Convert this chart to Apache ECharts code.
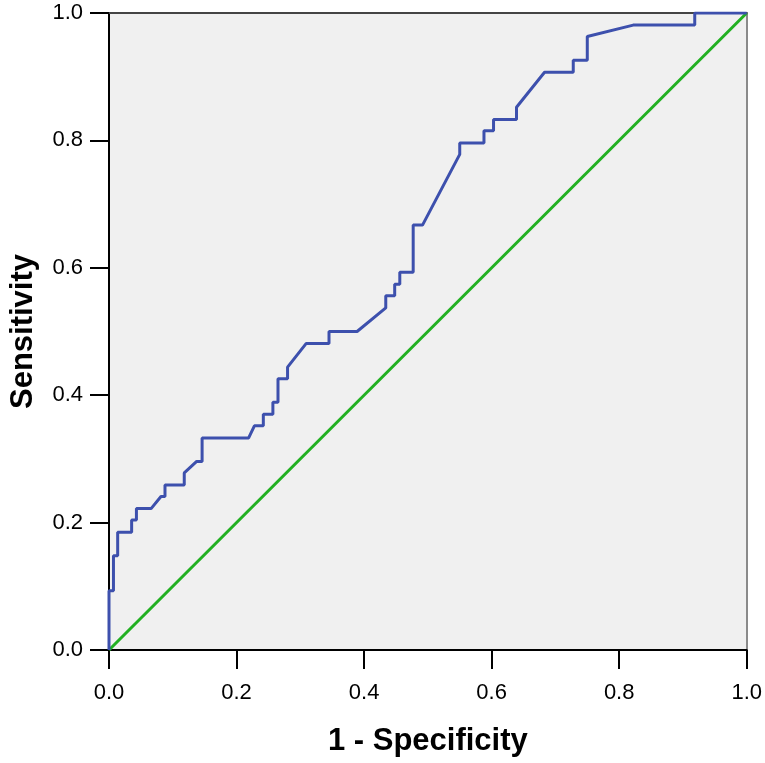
<!DOCTYPE html>
<html>
<head>
<meta charset="utf-8">
<script src="https://cdn.jsdelivr.net/npm/echarts@6/dist/echarts.min.js"></script>
<style>
  html, body { margin: 0; padding: 0; background: #fff; }
  #roc { width: 765px; height: 763px; }
</style>
</head>
<body>
<div id="roc"></div>
<script>
// ROC curve points: 1 - specificity / sensitivity
var fpr = [0, 0, 0.007, 0.007, 0.0136, 0.0136, 0.0355, 0.0355, 0.043, 0.043,
  0.066, 0.0815, 0.0878, 0.0878, 0.118, 0.118, 0.1375, 0.146, 0.146, 0.219,
  0.228, 0.242, 0.242, 0.257, 0.257, 0.265, 0.265, 0.280, 0.280, 0.309,
  0.345, 0.345, 0.389, 0.434, 0.434, 0.448, 0.448, 0.456, 0.456, 0.477,
  0.477, 0.4916, 0.550, 0.550, 0.588, 0.588, 0.603, 0.603, 0.639, 0.639,
  0.683, 0.728, 0.728, 0.750, 0.750, 0.822, 0.9185, 0.9185, 1];
var tpr = [0, 0.093, 0.093, 0.148, 0.148, 0.185, 0.185, 0.204, 0.204, 0.222,
  0.222, 0.241, 0.241, 0.259, 0.259, 0.278, 0.296, 0.296, 0.333, 0.333,
  0.352, 0.352, 0.370, 0.370, 0.389, 0.389, 0.426, 0.426, 0.444, 0.481,
  0.481, 0.500, 0.500, 0.537, 0.556, 0.556, 0.574, 0.574, 0.593, 0.593,
  0.667, 0.667, 0.778, 0.796, 0.796, 0.815, 0.815, 0.833, 0.833, 0.852,
  0.907, 0.907, 0.926, 0.926, 0.963, 0.981, 0.981, 1, 1];
// reference line
var refX = [0, 1];
var refY = [0, 1];

var pairs = function (xs, ys) {
  return xs.map(function (x, i) { return [x, ys[i]]; });
};

var chart = echarts.init(document.getElementById('roc'));
var font = 'Liberation Sans, Arial, sans-serif';

var baseAxis = {
  type: 'value',
  min: 0,
  max: 1,
  interval: 0.2,
  splitLine: {show: false},
  axisLine: {show: true, onZero: false, lineStyle: {color: '#000', width: 2}},
  axisTick: {show: true, inside: false, length: 19, lineStyle: {color: '#000', width: 2}},
  axisLabel: {
    color: '#000', fontSize: 22, fontFamily: font,
    formatter: function (v) { return v.toFixed(1); }
  },
  nameLocation: 'middle',
  nameTextStyle: {color: '#000', fontSize: 31, fontWeight: 'bold', fontFamily: font}
};

// frame lines on top / right, no ticks or labels
var frameAxis = function (pos, color) {
  return {
    type: 'value', min: 0, max: 1, position: pos, splitLine: {show: false},
    axisLine: {show: true, onZero: false, lineStyle: {color: color, width: 2}},
    axisTick: {show: false}, axisLabel: {show: false}
  };
};

chart.setOption({
  animation: false,
  backgroundColor: '#fff',
  grid: {
    left: 109, right: 18, top: 13, bottom: 113,
    show: true, backgroundColor: '#f0f0f0', borderWidth: 0
  },
  xAxis: [
    Object.assign({}, baseAxis, {
      position: 'bottom',
      name: '1 - Specificity',
      nameGap: 76,
      axisLabel: Object.assign({}, baseAxis.axisLabel, {margin: 32})
    }),
    frameAxis('top', '#444')
  ],
  yAxis: [
    Object.assign({}, baseAxis, {
      position: 'left',
      name: 'Sensitivity',
      nameGap: 70,
      axisLabel: Object.assign({}, baseAxis.axisLabel, {margin: 26})
    }),
    frameAxis('right', '#8a8a8a')
  ],
  series: [
    {
      name: 'Reference',
      type: 'line',
      data: pairs(refX, refY),
      showSymbol: false,
      lineStyle: {color: '#22b022', width: 3},
      z: 3
    },
    {
      name: 'ROC',
      type: 'line',
      data: pairs(fpr, tpr),
      showSymbol: false,
      lineStyle: {color: '#3d50ad', width: 3},
      z: 4
    }
  ]
});
</script>
</body>
</html>
